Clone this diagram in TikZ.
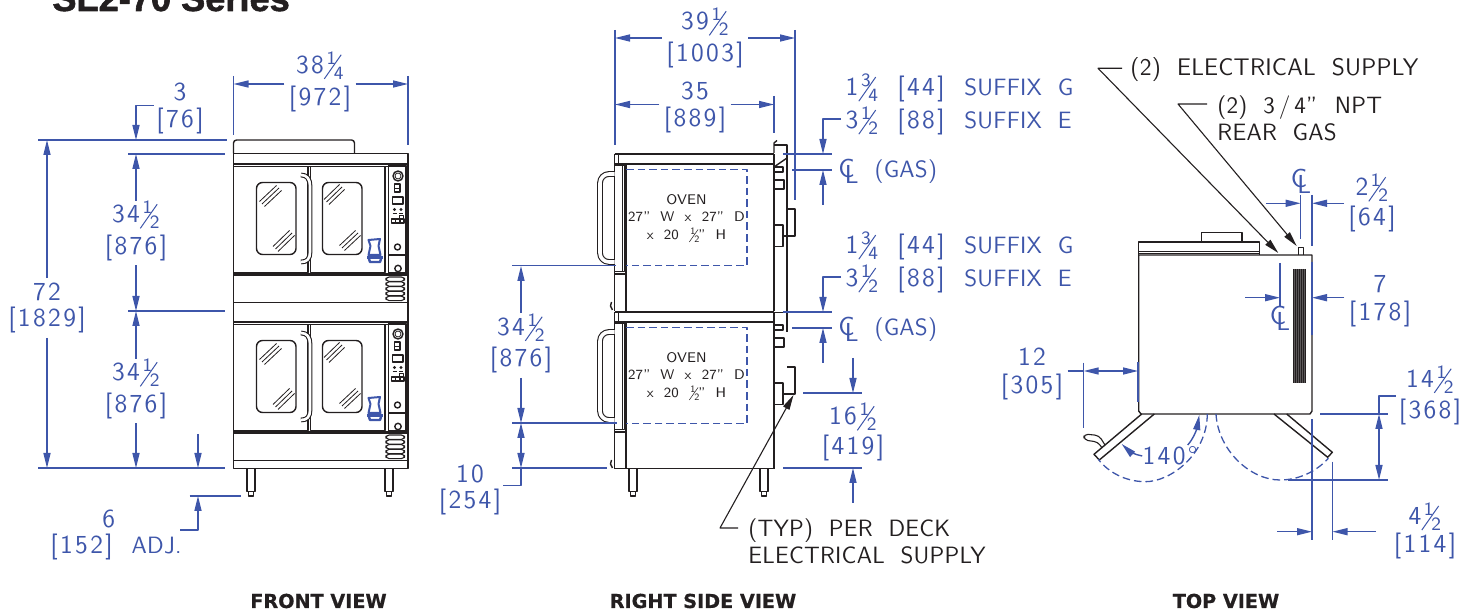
\documentclass[tikz,border=0pt]{standalone}
\usepackage{fontspec}
\usepackage{graphicx}
\usetikzlibrary{arrows.meta}
\newfontfamily\dimfont{Latin Modern Sans}[LetterSpace=9,WordSpace=2.2]
\newfontfamily\wordfont{Latin Modern Sans}[LetterSpace=1,WordSpace=2]
\newfontfamily\headfont{Liberation Sans Bold}[FakeBold=1.6]
\newfontfamily\viewfont{DejaVu Sans Bold}[FakeBold=0.6]
\definecolor{dimblue}{RGB}{62,86,170}
\definecolor{inkblk}{RGB}{35,31,32}
% stacked fraction with a long flat bar
\newcommand{\frc}[2]{\smash{\rlap{\kern1.3pt\raisebox{4.5pt}{\fontsize{9.4}{9.4}\selectfont #1}}\rlap{\raisebox{-3pt}{\rotatebox{55}{\rule{14.7pt}{.5pt}}}}\rlap{\kern5pt\raisebox{-3pt}{\fontsize{9.4}{9.4}\selectfont #2}}\kern10pt}}
\newcommand{\dimlb}[3][0pt]{#2\\[#1]{[#3]}}
\newcommand{\wrd}[1]{{\wordfont\fontsize{11.8}{13}\selectfont #1}}
\newcommand{\clmark}{\rlap{C}\kern3.2pt\raisebox{-3pt}{L}}
\newcommand{\sufline}[3]{\makebox[18pt][r]{#1}\hspace{9.5pt}\makebox[33.5pt][l]{[#2]}\wrd{SUFFIX #3}}
\tikzset{
	dimln/.style={draw=dimblue, line width=0.7pt},
	dimarr/.style={dimln, -{Stealth[length=7.5pt,width=3.5pt,inset=0pt]}},
	dimboth/.style={dimln, {Stealth[length=7.5pt,width=3.5pt,inset=0pt]}-{Stealth[length=7.5pt,width=3.5pt,inset=0pt]}},
	dimtxt/.style={text=dimblue, font=\dimfont\fontsize{13}{13.4}\selectfont, align=center, inner sep=2pt},
	notetxt/.style={text=inkblk, font=\wordfont\fontsize{11.8}{13.5}\selectfont, align=left, inner sep=0pt, anchor=west},
	oventxt/.style={text=inkblk, font=\wordfont\fontsize{7}{8.6}\selectfont, align=center, inner sep=0pt},
	viewtxt/.style={text=inkblk, font=\viewfont\fontsize{9.6}{10}\selectfont, inner sep=0pt},
	ldr/.style={draw=inkblk, line width=0.55pt},
	ldrarr/.style={ldr, -{Stealth[length=7.5pt,width=3.5pt,inset=0pt]}},
	oln/.style={draw=inkblk, line width=0.7pt},
	hvy/.style={draw=inkblk, line width=1.2pt},
	thn/.style={draw=inkblk, line width=0.4pt},
	tube/.style={draw=inkblk, line width=0.55pt, double=white, double distance=1.8pt},
	hidden/.style={draw=dimblue, line width=0.65pt, dash pattern=on 3.8pt off 2pt}
}
\begin{document}
\begin{tikzpicture}[x=0.5pt, y=-0.5pt, line join=round]
	\clip (0,0) rectangle (1473,613);
	\node[inner sep=0pt, anchor=base west, text=inkblk, font=\headfont\fontsize{18.1}{20}\selectfont] (title) at (52,11) {SL2-70 Series};
	\node[viewtxt] (vfront) at (318.5,601) {FRONT VIEW};
	\node[viewtxt] (vside) at (703,601) {RIGHT SIDE VIEW};
	\node[viewtxt] (vtop) at (1226,601) {TOP VIEW};

	% front view
	\draw[oln, rounded corners=1.5pt] (233.5,153.5) -- (233.5,140) -- (354.5,140) -- (354.5,153.5);
	\draw[oln] (233.5,153.5) -- (233.5,468.5) -- (408,468.5) -- (408,153.5) -- cycle;
	\foreach \dk in {0,158}{
		\begin{scope}[shift={(0,\dk)}]
			\draw[hvy] (233.5,164) -- (408,164);
			\draw[thn] (233.5,166) -- (408,166);
			\draw[oln] (233.5,272.5) -- (308,272.5) -- (308,166);
			\draw[oln] (310.5,166) -- (310.5,272.5) -- (385,272.5) -- (385,166);
			\draw[hvy] (233.5,274.5) -- (408,274.5);
			\draw[oln] (233.5,302.5) -- (408,302.5);
			\draw[oln, rounded corners=3pt] (256.5,182.5) rectangle (296,254.5);
			\draw[oln, rounded corners=3pt] (322.5,182.5) rectangle (362,254.5);
			\foreach \hh in {-2.5,0,2.5}{
				\draw[thn, shift={(\hh,\hh)}] (262,204) -- (279,188);
				\draw[thn, shift={(\hh,\hh)}] (275.5,249) -- (292,233);
				\draw[thn, shift={(\hh,\hh)}] (326.5,202) -- (342,187);
				\draw[thn, shift={(\hh,\hh)}] (342,248) -- (358,233);
			}
			\draw[tube, double distance=1.3pt] (301,175) .. controls (307,175) and (310,179) .. (310,186) -- (310,252) .. controls (310,259) and (307,262) .. (301,262);
			% controls
			\draw[oln] (388.5,165.5) rectangle (406,255);
			\draw[oln] (388.5,255) rectangle (406,273);
			\draw[oln] (398,176) circle[radius=5];
			\draw[thn] (398,176) circle[radius=3];
			\draw[oln] (394.7,184) rectangle (400,192);
			\draw[thn] (394.7,188) -- (400,188);
			\draw[oln] (392.5,197) rectangle (403,204);
			\foreach \kx in {394.5,401}{
				\fill[inkblk] (\kx,209.5) circle[radius=1.6];
				\draw[thn] (\kx-2,213) -- (\kx+2,213);
			}
			\draw[thn] (403,215) rectangle (399.5,218);
			\foreach \kx in {391.5,395.7,399.9}{
				\draw[oln] (\kx,219) rectangle +(4.2,4);
			}
			\draw[oln] (397.5,247) circle[radius=3];
			\draw[oln] (398,268.5) circle[radius=3.2];
			\foreach \vy in {277,281.8,286.6,291.4,296.2}{
				\draw[draw=inkblk, line width=0.55pt, rounded corners=1.6pt] (386,\vy) rectangle (404.5,\vy+4.4);
			}
			% badge
			\draw[dimblue, line width=1pt, line join=round] (368.5,240) -- (380,239) -- (378.5,246) -- (380.5,255) -- (368.5,255) -- (370.5,246) -- cycle;
			\draw[dimblue, line width=1.5pt] (367,257.5) -- (383,257.5);
			\draw[dimblue, line width=1.2pt] (369,259) -- (370,262) -- (380,262) -- (381,259);
		\end{scope}
	}
	\foreach \lx in {247,385}{
		\draw[oln] (\lx,468.5) -- (\lx,491.7) -- (\lx+8,491.7) -- (\lx+8,468.5);
		\draw[oln] (\lx+1.5,491.7) -- (\lx+1.5,496) -- (\lx+6.5,496) -- (\lx+6.5,491.7);
	}

	\coordinate (fwL) at (233.5,84);
	\coordinate (fwR) at (408,84);
	\node[dimtxt] (fw) at (320,84) {\dimlb[3pt]{38\frc14}{972}};
	\draw[dimarr] (fw.west |- fwL) -- (fwL);
	\draw[dimarr] (fw.east |- fwR) -- (fwR);
	\draw[dimln] (233.5,76) -- (233.5,135);
	\draw[dimln] (408,76) -- (408,145);
	\coordinate (ftA) at (38,140);
	\coordinate (ftB) at (227,140);
	\coordinate (fpA) at (128,154);
	\coordinate (fpB) at (225,154);
	\coordinate (fmA) at (128,311);
	\coordinate (fmB) at (225,311);
	\coordinate (fbA) at (38,468);
	\coordinate (fbB) at (225,468);
	\foreach \pa/\pb in {ftA/ftB,fpA/fpB,fmA/fmB,fbA/fbB} \draw[dimln] (\pa) -- (\pb);
	\node[dimtxt] (f3) at (180,108.5) {\dimlb[0.5pt]{3}{76}};
	\coordinate (f3k) at (136,105.5);
	\coordinate (f3t) at (136,140);
	\draw[dimarr] (153.5,105.5) -- (f3k) -- (f3t);
	\node[dimtxt] (f72) at (47,308) {\dimlb{72}{1829}};
	\coordinate (f72t) at (47,140);
	\coordinate (f72b) at (47,468);
	\draw[dimarr] (f72) -- (f72t);
	\draw[dimarr] (f72) -- (f72b);
	\node[dimtxt] (fh1) at (136,233) {\dimlb[2.5pt]{34\frc12}{876}};
	\node[dimtxt] (fh2) at (136,391) {\dimlb[2.5pt]{34\frc12}{876}};
	\coordinate (fh1t) at (136,154);
	\coordinate (fh1b) at (136,311);
	\coordinate (fh2t) at (136,311);
	\coordinate (fh2b) at (136,468);
	\draw[dimarr] (fh1) -- (fh1t);
	\draw[dimarr] (fh1) -- (fh1b);
	\draw[dimarr] (fh2) -- (fh2t);
	\draw[dimarr] (fh2) -- (fh2b);
	\coordinate (fadjA) at (198,434);
	\coordinate (fadjB) at (198,468);
	\draw[dimarr] (fadjA) -- (fadjB);
	\coordinate (fadjC) at (189.5,496);
	\coordinate (fadjD) at (241,496);
	\draw[dimln] (fadjC) -- (fadjD);
	\node[dimtxt, anchor=west, align=left, inner sep=0pt] (f6) at (50,535) {\hspace{26pt}6\\{[152]}\hspace{9.5pt}\wrd{ADJ.}};
	\coordinate (fadjE) at (198,530);
	\coordinate (fadjF) at (198,496);
	\draw[dimarr] (180,530) -- (fadjE) -- (fadjF);

	% right side view
	\foreach \dk in {0,158}{
		\begin{scope}[shift={(0,\dk)}]
			\draw[hvy] (614.5,154) -- (774,154);
			\draw[hvy] (614.5,164) -- (774,164);
			\draw[oln] (614.5,154) -- (614.5,311);
			\draw[thn] (618,154) -- (618,165);
			\draw[oln] (614.5,165) rectangle (624.3,271.7);
			\draw[thn] (622,165) -- (622,271.7);
			\draw[oln] (626,165) -- (626,311);
			\draw[oln] (614.5,274) -- (626,274);
			\draw[oln] (774,154) -- (774,311);
			\draw[tube, rounded corners=4.5pt] (614.5,174) -- (600,174) -- (600,262) -- (614.5,262);
			\draw[hidden] (626,169.5) -- (747,169.5) -- (747,265.5) -- (626,265.5);
			\node[oventxt] (oven\dk) at (686.5,217) {OVEN\\27” W x 27” D\\x 20 \scalebox{.52}{\frc12}\kern-.5pt” H};
			\draw[oln] (774,167) rectangle (783,172);
			\draw[oln] (774,180) rectangle (784,189);
			\draw[oln] (787,209) -- (795,209) -- (795,236) -- (783,236);
			\draw[oln] (774,225) -- (783,225) -- (783,246.5) -- (774,246.5);
			\draw[oln] (611.5,302) -- (610.5,306) -- (612.5,310);
		\end{scope}
	}
	\draw[oln] (614.5,468.5) -- (774,468.5);
	\draw[oln] (774,153) -- (774,143) -- (777,140.5);
	\draw[oln] (774,145) -- (787,145) -- (787,332);
	\draw[oln] (774,167) -- (787,158);
	\draw[oln] (774,312.5) -- (787,312.5);
	\foreach \lx in {629,760}{
		\draw[oln] (\lx,468.5) -- (\lx,491.7) -- (\lx+8,491.7) -- (\lx+8,468.5);
		\draw[oln] (\lx+1.5,491.7) -- (\lx+1.5,496) -- (\lx+6.5,496) -- (\lx+6.5,491.7);
	}

	\coordinate (swL) at (615,38);
	\coordinate (swR) at (795,38);
	\node[dimtxt] (sw) at (705,40) {\dimlb[2.5pt]{39\frc12}{1003}};
	\draw[dimarr] (sw.west |- swL) -- (swL);
	\draw[dimarr] (sw.east |- swR) -- (swR);
	\draw[dimln] (615,30) -- (615,145);
	\draw[dimln] (795,30) -- (795,200);
	\coordinate (sdL) at (615,104.5);
	\coordinate (sdR) at (774,104.5);
	\node[dimtxt] (sd) at (695,107.5) {\dimlb[0.2pt]{35}{889}};
	\draw[dimarr] (sd.west |- sdL) -- (sdL);
	\draw[dimarr] (sd.east |- sdR) -- (sdR);
	\draw[dimln] (774,96) -- (774,133);
	\foreach \dk/\sg/\se/\gs in {0/sg1/se1/gs1,158/sg2/se2/gs2}{
		\begin{scope}[shift={(0,\dk)}]
			\node[dimtxt, anchor=west, inner sep=0pt] (\sg) at (842,89) {\sufline{1\frc34}{44}{G}};
			\node[dimtxt, anchor=west, inner sep=0pt] (\se) at (842,122) {\sufline{3\frc12}{88}{E}};
			\node[dimtxt, anchor=west, inner sep=0pt] (\gs) at (838,171) {\clmark\hspace{8pt}\wrd{(GAS)}};
			\draw[dimarr] (841,119) -- (823,119) -- (823,154);
			\draw[dimarr] (823,205) -- (823,170);
			\draw[dimln] (783,154) -- (832,154);
			\draw[dimln] (792,170) -- (832,170);
		\end{scope}
	}
	\node[dimtxt] (sh) at (521,345.5) {\dimlb[2.5pt]{34\frc12}{876}};
	\coordinate (shT) at (521,266);
	\coordinate (shB) at (521,423);
	\draw[dimarr] (sh) -- (shT);
	\draw[dimarr] (sh) -- (shB);
	\draw[dimln] (512,265.5) -- (616,265.5);
	\draw[dimln] (512,423) -- (617,423);
	\draw[dimln] (512,468) -- (607,468);
	\coordinate (s10t) at (521,423);
	\coordinate (s10b) at (521,468);
	\draw[dimboth] (s10t) -- (s10b);
	\draw[dimln] (s10b) -- (521,485.5) -- (503,485.5);
	\node[dimtxt] (s10) at (470,490) {\dimlb{10}{254}};
	\node[dimtxt] (s16) at (853,434) {\dimlb[1.5pt]{16\frc12}{419}};
	\coordinate (s16a) at (853,358);
	\coordinate (s16b) at (853,393);
	\coordinate (s16c) at (853,503);
	\coordinate (s16d) at (853,468);
	\draw[dimarr] (s16a) -- (s16b);
	\draw[dimarr] (s16c) -- (s16d);
	\draw[dimln] (803,393) -- (862,393);
	\draw[dimln] (783,468) -- (862,468);
	\node[notetxt] (stp) at (748,541.5) {(TYP) PER DECK\\ELECTRICAL SUPPLY};
	\coordinate (stpA) at (738,528);
	\coordinate (stpB) at (720,528);
	\coordinate (stpC) at (793.5,395);
	\draw[ldrarr] (stpA) -- (stpB) -- (stpC);

	% top view
	\draw[oln] (1138.7,255) -- (1138.7,411) -- (1141,414) -- (1310,414) -- (1312,411) -- (1312,255) -- cycle;
	\draw[thn] (1138.7,253) -- (1259.7,253);
	\draw[oln] (1138.7,255) -- (1138.7,242) -- (1259.7,242) -- (1259.7,255);
	\draw[thn] (1138.7,251) -- (1259.7,251);
	\draw[oln] (1201.5,242) -- (1201.5,232.7) -- (1242,232.7) -- (1242,242);
	\draw[thn] (1298,255) -- (1298,247) -- (1303,247) -- (1303,255);
	\fill[inkblk!75] (1293,269) rectangle (1306,383);
	\foreach \vx in {1293.5,1295.5,...,1305.5} \draw[inkblk, line width=0.4pt] (\vx,269) -- (\vx,383);
	\draw[oln] (1141.7,414) -- (1094,454.3) -- (1099.3,460) -- (1154.3,414);
	\draw[oln] (1274,414) -- (1327.7,457.3) -- (1332.3,452.3) -- (1286.7,414);
	\draw[thn, line width=0.55pt, rounded corners=2pt] (1105,445) -- (1099,435.5) -- (1084,434) -- (1084,440) -- (1098,442) -- (1102,448);
	\draw[hidden] (1207.3,414) .. controls (1207,455) and (1170,482) .. (1145,481.7) .. controls (1125,481.5) and (1108,472) .. (1098.3,459.3);
	\draw[hidden] (1216,414) .. controls (1218,450) and (1250,480) .. (1280,480) .. controls (1298,480) and (1316,472) .. (1328.3,458.3);

	\node[notetxt, font=\wordfont\fontsize{12}{13.5}\selectfont] (tel) at (1130,69.5) {(2) ELECTRICAL SUPPLY};
	\coordinate (telA) at (1122,68.3);
	\coordinate (telB) at (1098,68.3);
	\coordinate (telC) at (1278.3,253);
	\draw[ldrarr] (telA) -- (telB) -- (telC);
	\node[notetxt] (tgs) at (1217,118) {(2) 3\kern2pt/\kern2pt4” \kern1pt NPT\\REAR GAS};
	\coordinate (tgsA) at (1207,104);
	\coordinate (tgsB) at (1178,104);
	\coordinate (tgsC) at (1296.7,246);
	\draw[ldrarr] (tgsA) -- (tgsB) -- (tgsC);

	\node[dimtxt, inner sep=0pt] (tcl1) at (1301,181) {\clmark};
	\node[dimtxt, inner sep=0pt] (tcl2) at (1280,318) {\clmark};
	\node[dimtxt] (t2h) at (1372,205) {\dimlb[1.5pt]{2\frc12}{64}};
	\coordinate (t2a) at (1300.7,203.3);
	\coordinate (t2b) at (1312,203.3);
	\draw[dimln] (1300.7,195) -- (1300.7,239);
	\draw[dimln] (1312,195) -- (1312,246);
	\draw[dimarr] (1266,203.3) -- (t2a);
	\draw[dimarr] (t2h.west |- t2b) -- (t2b);
	\node[dimtxt] (t7) at (1380,301) {\dimlb[0.5pt]{7}{178}};
	\coordinate (t7a) at (1280,297.7);
	\coordinate (t7b) at (1312,297.7);
	\draw[dimln] (1280,263) -- (1280,306.7);
	\draw[dimln] (1312,262) -- (1312,335);
	\draw[dimarr] (1245,297.7) -- (t7a);
	\draw[dimarr] (t7.west |- t7b) -- (t7b);
	\node[dimtxt] (t12) at (1032,374) {\dimlb[0.5pt]{12}{305}};
	\coordinate (t12a) at (1083.7,371);
	\coordinate (t12b) at (1138,371);
	\draw[dimboth] (t12a) -- (t12b);
	\draw[dimln] (t12.east |- t12a) -- (t12a);
	\draw[dimln] (1083.7,362.7) -- (1083.7,428);
	\draw[dimln] (1138,362) -- (1138,402);
	\node[dimtxt, inner sep=0pt] (t140) at (1170,456) {140°};
	\coordinate (t140a) at (1121.7,444);
	\coordinate (t140b) at (1199.3,415);
	\draw[dimarr] (t140.west) .. controls (1135,455) and (1128,450) .. (t140a);
	\draw[dimarr] (1187.7,445) .. controls (1194,438) and (1197,428) .. (t140b);
	\node[dimtxt] (t14) at (1430,397.5) {\dimlb[2.5pt]{14\frc12}{368}};
	\coordinate (t14a) at (1379,414);
	\coordinate (t14b) at (1379,480);
	\draw[dimboth] (t14a) -- (t14b);
	\draw[dimln] (t14a) -- (1379,396) -- (1396,396);
	\draw[dimln] (1320,414) -- (1387.5,414);
	\draw[dimln] (1288,480) -- (1387.5,480);
	\node[dimtxt] (t4) at (1425,533) {\dimlb[0.5pt]{4\frc12}{114}};
	\coordinate (t4a) at (1312,531.7);
	\coordinate (t4b) at (1332.5,531.7);
	\draw[dimln] (1312,419) -- (1312,540);
	\draw[dimln] (1332.5,461.7) -- (1332.5,540);
	\draw[dimarr] (1277,531.7) -- (t4a);
	\draw[dimarr] (1376,531.7) -- (t4b);
\end{tikzpicture}
\end{document}
